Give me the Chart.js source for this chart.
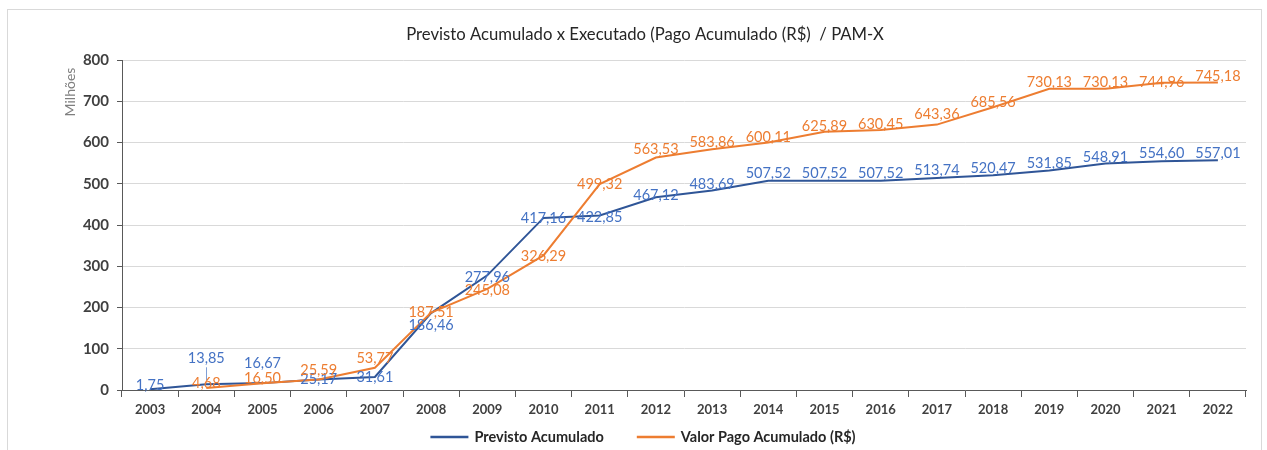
<!DOCTYPE html>
<html>
<head>
<meta charset="utf-8">
<script src="https://cdn.jsdelivr.net/npm/chart.js@4.4.0/dist/chart.umd.min.js"></script>
<style>
  html, body { margin: 0; padding: 0; background: #fff; }
  #wrap { width: 1267px; height: 450px; position: relative; }
</style>
</head>
<body>
<div id="wrap"><canvas id="myChart" width="1267" height="450"></canvas></div>
<script>
const years = ['2003', '2004', '2005', '2006', '2007', '2008', '2009', '2010', '2011', '2012',
    '2013', '2014', '2015', '2016', '2017', '2018', '2019', '2020', '2021', '2022'];

const previsto = [1.75, 13.85, 16.67, 25.17, 31.61, 186.46, 277.96, 417.16, 422.85, 467.12,
    483.69, 507.52, 507.52, 507.52, 513.74, 520.47, 531.85, 548.91, 554.60, 557.01];

const pago = [null, 4.68, 16.50, 25.59, 53.77, 187.51, 245.08, 326.29, 499.32, 563.53,
    583.86, 600.11, 625.89, 630.45, 643.36, 685.56, 730.13, 730.13, 744.96, 745.18];

const yTicks = [0, 100, 200, 300, 400, 500, 600, 700, 800];

// vertical nudge of each data label (px), the way they sit in the original
const nudgePrevisto = [-4, -26, -20, 0, 0, 12, 2, 0, 2, -2, -6, -7, -7, -7, -8, -7, -7, -6, -8, -7];
const nudgePago = [0, -5, -5, -9, -9, 0, 1, 1, 0, -8, -7, -5, -5, -6, -10, -5, -6, -6, 0, -6];

const FONT = 'Lato, "Open Sans", sans-serif';

const frame = {
    id: 'frame',
    beforeDraw(chart) {
        const ctx = chart.ctx;
        ctx.save();
        ctx.strokeStyle = '#d9d9d9';
        ctx.lineWidth = 1;
        ctx.strokeRect(7.5, 9.5, 1254, 460);
        ctx.fillStyle = '#262626';
        ctx.font = '16.7px ' + FONT;
        ctx.textAlign = 'center';
        ctx.textBaseline = 'middle';
        ctx.fillText('Previsto Acumulado x Executado (Pago Acumulado (R$)  / PAM-X', 645, 35);
        ctx.translate(70, 92);
        ctx.rotate(-Math.PI / 2);
        ctx.fillStyle = '#7f7f7f';
        ctx.font = '14px ' + FONT;
        ctx.fillText('Milhões', 0, 0);
        ctx.restore();
    },
    afterDraw(chart) {
        // legend row under the axis, built from the datasets
        const ctx = chart.ctx;
        const ds = chart.data.datasets;
        ctx.save();
        ctx.font = 'bold 14.5px ' + FONT;
        ctx.textBaseline = 'middle';
        const lineW = 38, gapText = 6, gapItem = 33;
        const widths = ds.map(d => lineW + gapText + ctx.measureText(d.label).width);
        const total = widths.reduce((a, b) => a + b, 0) + gapItem * (ds.length - 1);
        let x = 643 - total / 2;
        const y = 437;
        ds.forEach((d, i) => {
            ctx.strokeStyle = d.borderColor;
            ctx.lineWidth = 2.5;
            ctx.beginPath();
            ctx.moveTo(x, y);
            ctx.lineTo(x + lineW, y);
            ctx.stroke();
            ctx.fillStyle = '#262626';
            ctx.textAlign = 'left';
            ctx.fillText(d.label, x + lineW + gapText, y);
            x += widths[i] + gapItem;
        });
        ctx.restore();
    }
};

const valueLabels = {
    id: 'valueLabels',
    afterDatasetsDraw(chart) {
        const ctx = chart.ctx;
        const nudges = [nudgePrevisto, nudgePago];
        const colors = ['#4472C4', '#ED7D31'];
        ctx.save();
        ctx.font = '14.5px ' + FONT;
        ctx.textAlign = 'center';
        ctx.textBaseline = 'middle';
        chart.data.datasets.forEach((ds, di) => {
            const meta = chart.getDatasetMeta(di);
            ctx.fillStyle = colors[di];
            meta.data.forEach((pt, i) => {
                const v = ds.data[i];
                if (v === null || v === undefined) return;
                const dy = nudges[di][i];
                const txt = v.toFixed(2).replace('.', ',');
                ctx.fillText(txt, pt.x, pt.y + dy);
                if (dy <= -25) {
                    // leader line for a label pulled far from its point
                    ctx.strokeStyle = '#7f9fd6';
                    ctx.lineWidth = 1;
                    ctx.beginPath();
                    ctx.moveTo(Math.round(pt.x) + 0.5, pt.y + dy + 9);
                    ctx.lineTo(Math.round(pt.x) + 0.5, pt.y - 4);
                    ctx.stroke();
                }
            });
        });
        ctx.restore();
    }
};

const data = {
    labels: years,
    datasets: [{
        label: 'Previsto Acumulado',
        data: previsto,
        borderColor: '#2F5597',
        backgroundColor: '#2F5597',
        borderWidth: 2,
        pointRadius: 0,
        tension: 0,
        order: 2
    }, {
        label: 'Valor Pago Acumulado (R$)',
        data: pago,
        borderColor: '#ED7D31',
        backgroundColor: '#ED7D31',
        borderWidth: 2,
        pointRadius: 0,
        tension: 0,
        order: 1
    }]
};

const config = {
    type: 'line',
    data: data,
    options: {
        responsive: false,
        animation: false,
        layout: { padding: { top: 60, left: 0, right: 21, bottom: 32 } },
        plugins: {
            title: { display: false },
            tooltip: { enabled: false },
            legend: { display: false }
        },
        scales: {
            x: {
                offset: true,
                grid: {
                    offset: true,
                    drawOnChartArea: false,
                    drawTicks: true,
                    tickLength: 7,
                    tickColor: '#595959'
                },
                border: { color: '#595959', width: 1 },
                ticks: {
                    color: '#404040',
                    padding: 5,
                    maxRotation: 0,
                    autoSkip: false,
                    font: { family: FONT, size: 13, weight: 'bold' }
                },
                afterFit(scale) { scale.height = 28; }
            },
            y: {
                min: 0,
                max: 800,
                afterBuildTicks(scale) { scale.ticks = yTicks.map(v => ({ value: v })); },
                grid: {
                    color: '#d9d9d9',
                    tickLength: 5,
                    tickColor: '#595959'
                },
                border: { color: '#595959', width: 1 },
                ticks: {
                    color: '#404040',
                    padding: 8,
                    font: { family: FONT, size: 15, weight: 'bold' }
                },
                afterFit(scale) { scale.width = 122; }
            }
        }
    },
    plugins: [frame, valueLabels]
};

new Chart(document.getElementById('myChart'), config);
</script>
</body>
</html>
